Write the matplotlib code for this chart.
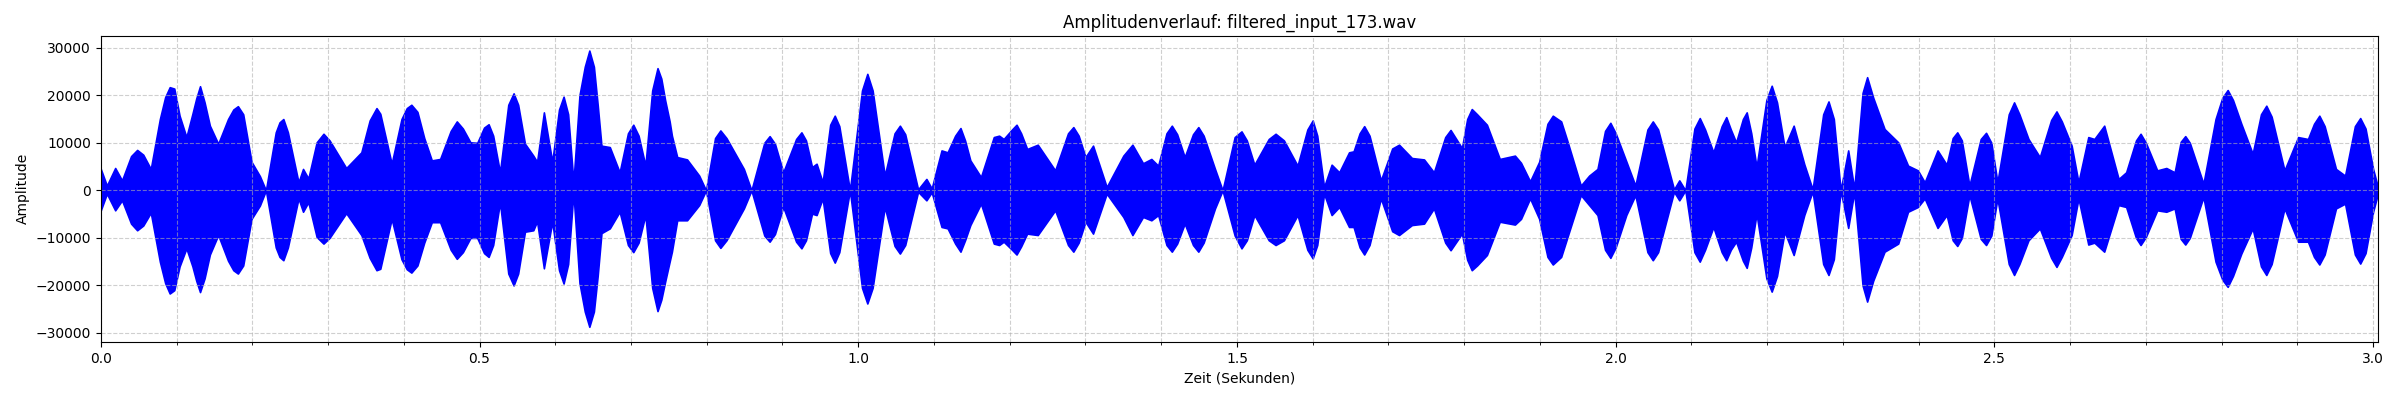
import matplotlib
matplotlib.use("Agg")
import matplotlib.pyplot as plt
from matplotlib.ticker import MultipleLocator

# envelope of the waveform (time in s, amplitude)
t = [0.000, 0.008, 0.019, 0.028, 0.040, 0.048, 0.056, 0.066, 0.078, 0.085,
     0.091, 0.097, 0.104, 0.113, 0.121, 0.126, 0.131, 0.137, 0.144, 0.155,
     0.168, 0.175, 0.181, 0.188, 0.199, 0.210, 0.218, 0.231, 0.236, 0.241,
     0.247, 0.261, 0.267, 0.274, 0.285, 0.294, 0.302, 0.324, 0.344, 0.355,
     0.364, 0.369, 0.384, 0.397, 0.404, 0.410, 0.418, 0.427, 0.437, 0.448,
     0.462, 0.470, 0.478, 0.488, 0.497, 0.506, 0.512, 0.518, 0.527, 0.538,
     0.545, 0.551, 0.560, 0.571, 0.576, 0.585, 0.596, 0.605, 0.611, 0.617,
     0.624, 0.632, 0.639, 0.645, 0.651, 0.656, 0.661, 0.672, 0.685, 0.696,
     0.703, 0.710, 0.719, 0.728, 0.735, 0.740, 0.745, 0.751, 0.754, 0.761,
     0.774, 0.790, 0.799, 0.811, 0.818, 0.826, 0.849, 0.859, 0.876, 0.883,
     0.890, 0.901, 0.918, 0.925, 0.931, 0.939, 0.945, 0.953, 0.963, 0.969,
     0.975, 0.989, 1.005, 1.012, 1.019, 1.035, 1.048, 1.055, 1.062, 1.079,
     1.090, 1.097, 1.110, 1.118, 1.128, 1.135, 1.141, 1.148, 1.162, 1.179,
     1.186, 1.192, 1.203, 1.209, 1.215, 1.223, 1.237, 1.260, 1.277, 1.284,
     1.291, 1.300, 1.310, 1.328, 1.350, 1.362, 1.376, 1.387, 1.396, 1.407,
     1.414, 1.421, 1.431, 1.442, 1.449, 1.456, 1.471, 1.481, 1.497, 1.506,
     1.513, 1.523, 1.542, 1.551, 1.562, 1.580, 1.593, 1.600, 1.606, 1.615,
     1.625, 1.635, 1.648, 1.654, 1.662, 1.668, 1.675, 1.690, 1.705, 1.714,
     1.731, 1.747, 1.760, 1.775, 1.782, 1.797, 1.804, 1.810, 1.817, 1.830,
     1.847, 1.867, 1.875, 1.887, 1.899, 1.910, 1.917, 1.928, 1.936, 1.954,
     1.965, 1.976, 1.986, 1.993, 2.000, 2.014, 2.026, 2.042, 2.049, 2.056,
     2.077, 2.084, 2.092, 2.104, 2.111, 2.118, 2.129, 2.140, 2.146, 2.152,
     2.159, 2.168, 2.173, 2.179, 2.186, 2.199, 2.206, 2.213, 2.223, 2.235,
     2.249, 2.260, 2.274, 2.281, 2.288, 2.297, 2.307, 2.315, 2.326, 2.332,
     2.340, 2.355, 2.373, 2.386, 2.399, 2.408, 2.425, 2.437, 2.445, 2.451,
     2.457, 2.467, 2.482, 2.489, 2.496, 2.504, 2.519, 2.526, 2.533, 2.545,
     2.560, 2.575, 2.582, 2.589, 2.602, 2.611, 2.624, 2.632, 2.645, 2.664,
     2.674, 2.687, 2.693, 2.700, 2.715, 2.727, 2.738, 2.746, 2.752, 2.758,
     2.776, 2.792, 2.801, 2.808, 2.815, 2.826, 2.841, 2.852, 2.859, 2.866,
     2.883, 2.901, 2.914, 2.922, 2.929, 2.936, 2.951, 2.963, 2.976, 2.983,
     2.990, 3.000, 3.007]

upper = [4500, 1000, 4700, 2100, 7200, 8500, 7500, 4500, 15000, 19600,
         21700, 21400, 15700, 11200, 16100, 19300, 21900, 18500, 13600, 9800,
         15000, 17000, 17700, 16000, 6000, 3000, 0, 12200, 14300, 15000,
         12200, 1700, 4500, 2500, 10100, 11900, 10500, 4700, 8000, 14700,
         17300, 16100, 5600, 15000, 17300, 18000, 16500, 11000, 6300, 6600,
         12500, 14500, 13000, 10100, 10000, 13200, 13900, 11500, 3800, 18000,
         20400, 18000, 9800, 7300, 6000, 16400, 6000, 17000, 19700, 16000,
         1700, 20000, 26000, 29400, 26000, 18000, 9400, 9100, 3800, 12000,
         13800, 11500, 5200, 21000, 25700, 23500, 19000, 14500, 11500, 7000,
         6500, 3100, 0, 11000, 12600, 11000, 4500, 0, 10000, 11400,
         9800, 3800, 10800, 12200, 10500, 4900, 5600, 1700, 13800, 15700,
         13500, 0, 21000, 24500, 21000, 3100, 12000, 13600, 11800, 200,
         2400, 400, 8400, 8000, 11500, 13100, 10500, 6300, 2800, 11200,
         11500, 10800, 12800, 13800, 12000, 8700, 9600, 4200, 12000, 13300,
         11500, 7000, 9400, 700, 7300, 9600, 5700, 6600, 5200, 12000,
         13600, 11800, 7000, 11800, 13300, 11500, 4500, 0, 11200, 12400,
         10500, 5400, 10800, 11900, 10500, 5200, 12800, 14700, 11500, 700,
         5400, 3800, 8000, 8200, 12000, 13500, 11500, 2100, 8800, 9600,
         6800, 6500, 3800, 11200, 12700, 8900, 15000, 17100, 16000, 13800,
         6600, 7300, 5800, 1900, 6000, 14000, 15700, 14500, 10500, 1000,
         3100, 4500, 12500, 14200, 12000, 6100, 1000, 12800, 14500, 12800,
         200, 2100, 0, 13000, 15200, 12800, 8000, 13500, 15400, 12800,
         10100, 15000, 16400, 12000, 4900, 19000, 22000, 18500, 9100, 13600,
         5500, 200, 16000, 18700, 15000, 0, 8400, 300, 20500, 23800,
         19500, 12900, 10100, 5200, 4200, 1700, 8400, 5400, 11000, 12200,
         10500, 1000, 10800, 12100, 10000, 1700, 16000, 18500, 16000, 10800,
         7000, 14800, 16600, 14500, 9400, 1700, 11200, 10800, 13600, 2400,
         3800, 10500, 11900, 10000, 4200, 4700, 3800, 10200, 11400, 10000,
         1400, 15000, 19500, 21100, 19000, 14000, 7700, 16000, 17800, 15500,
         4200, 11200, 10800, 14000, 15700, 13500, 4500, 3100, 13500, 15200,
         13000, 4500, 300]

lower = [-4200, -700, -4200, -2100, -7000, -8400, -7400, -4700, -15000, -19500,
         -21700, -21000, -16000, -12200, -16000, -19000, -21400, -18500, -13500, -9400,
         -14800, -16800, -17500, -15800, -6000, -3200, 0, -12000, -14000, -14700,
         -12000, -1700, -4500, -2500, -9800, -11200, -10000, -4800, -9400, -14200,
         -16800, -16500, -6000, -14500, -16600, -17300, -15800, -11000, -6700, -6700,
         -12500, -14400, -13000, -10000, -10000, -13200, -14000, -11500, -2500, -17500,
         -20000, -17500, -8700, -8400, -6500, -16400, -6600, -16800, -19600, -15500,
         -400, -19500, -25500, -28700, -25500, -18000, -9000, -8000, -4500, -11500,
         -13000, -11000, -5200, -20500, -25400, -23000, -19250, -15000, -12900, -6300,
         -6300, -3100, 0, -10500, -12100, -10500, -3800, 0, -9500, -10800,
         -9200, -3500, -10800, -12200, -10500, -4900, -5200, -1700, -13200, -15200,
         -13000, 0, -20500, -23800, -20500, -3500, -11700, -13300, -11500, -300,
         -2100, -400, -7700, -8000, -11200, -12900, -10500, -7300, -2800, -11200,
         -11500, -10800, -12500, -13500, -11800, -9100, -9400, -4200, -11500, -12900,
         -11000, -6600, -9100, -700, -5600, -9400, -5600, -6300, -5200, -11500,
         -12900, -11200, -7000, -11500, -12900, -11000, -3800, 0, -9500, -12200,
         -10500, -5200, -10500, -11500, -10500, -5200, -12500, -14300, -11500, -700,
         -5200, -3500, -7700, -7700, -12000, -13500, -11500, -1700, -8600, -9400,
         -7300, -7000, -3800, -11000, -12600, -9100, -14600, -16800, -15800, -13600,
         -6600, -7200, -6000, -1700, -6000, -14000, -15600, -14000, -10000, -1000,
         -3100, -5200, -12500, -14200, -12000, -5200, -1000, -13000, -14700, -13000,
         -300, -2100, 0, -13000, -15000, -12500, -7700, -13000, -14700, -12500,
         -10800, -14800, -16300, -12000, -4900, -18500, -21300, -18000, -8700, -13600,
         -5200, -200, -15500, -17800, -14500, 0, -7900, -300, -20000, -23400,
         -19000, -12900, -11200, -4500, -3500, -1700, -7900, -5200, -10500, -11700,
         -10000, -1000, -10200, -11500, -9500, -1700, -15500, -17800, -15500, -10500,
         -8000, -14200, -16100, -14000, -9400, -1700, -11400, -11000, -12900, -3100,
         -3500, -10000, -11500, -9800, -4200, -4500, -3800, -10200, -11400, -10000,
         -1400, -15000, -18800, -20300, -18000, -13300, -8000, -16000, -17800, -15500,
         -3800, -10800, -10800, -14000, -15600, -13500, -3800, -2800, -13500, -15400,
         -13200, -4500, -300]

title = "Amplitudenverlauf: filtered_input_173.wav"

fig = plt.figure(figsize=(24, 4), dpi=100)
ax = fig.add_subplot(111)
fig.subplots_adjust(left=0.042, right=0.991, top=0.911, bottom=0.145)

ax.fill_between(t, lower, upper, color='blue', linewidth=1.2)

ax.set_title(title, fontsize=12)
ax.set_xlabel('Zeit (Sekunden)')
ax.set_ylabel('Amplitude')
ax.set_xlim(0, 3.007)
ax.set_ylim(-31900, 32550)
ax.xaxis.set_minor_locator(MultipleLocator(0.1))
ax.grid(True, which='both', linestyle='--', alpha=0.6)

fig.savefig('out.png')
